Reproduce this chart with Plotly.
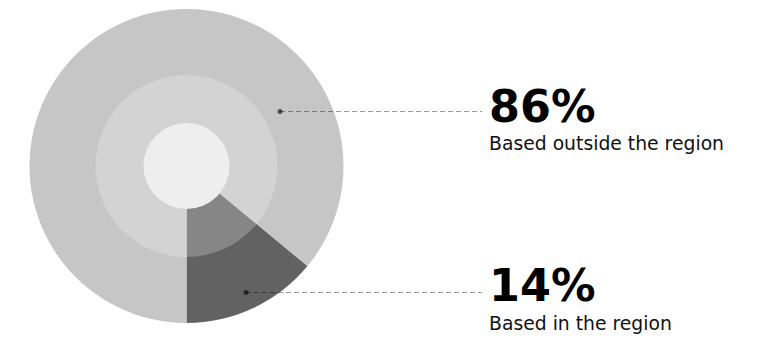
import plotly.graph_objects as go

# ---- data ----
labels = ["Based in the region", "Based outside the region"]
values = [14, 86]
pct_text = ["14%", "86%"]
colors = ["#626262", "#c6c6c6"]

# ---- layout geometry (pixels) ----
W, H = 758, 338
cx, cy, R = 186.5, 166, 157
R_mid, R_in = 91, 43

def px(x):
    return x / W

def py(y):
    return (H - y) / H

# first slice ends at 6 o'clock (clockwise drawing)
rotation = 180 - 360 * values[0] / sum(values)

fig = go.Figure()
fig.add_trace(go.Pie(
    labels=labels, values=values, sort=False,
    direction="clockwise", rotation=rotation,
    marker=dict(colors=colors, line=dict(width=0)),
    textinfo="none", hoverinfo="skip", showlegend=False,
    domain=dict(x=[px(cx - R), px(cx + R)], y=[py(cy + R), py(cy - R)]),
))

shapes = [
    dict(type="circle", xref="paper", yref="paper",
         x0=px(cx - R_mid), x1=px(cx + R_mid), y0=py(cy + R_mid), y1=py(cy - R_mid),
         fillcolor="rgba(255,255,255,0.23)", line=dict(width=0)),
    dict(type="circle", xref="paper", yref="paper",
         x0=px(cx - R_in), x1=px(cx + R_in), y0=py(cy + R_in), y1=py(cy - R_in),
         fillcolor="#eeeeee", line=dict(width=0)),
]

# leader positions: (dot x, dot y, line end x) for each label
leaders = {"86%": (280, 111.5, 482), "14%": (246, 292.5, 482)}
text_pos = {"86%": (107, 143), "14%": (285.4, 323)}

annotations = []
for lab, pct in zip(labels, pct_text):
    dx, dy, ex = leaders[pct]
    shapes.append(dict(type="line", xref="paper", yref="paper",
                       x0=px(dx), x1=px(ex), y0=py(dy), y1=py(dy),
                       line=dict(color="rgba(0,0,0,0.4)", width=1, dash="5px,3px")))
    r = 2.5
    shapes.append(dict(type="circle", xref="paper", yref="paper",
                       x0=px(dx - r), x1=px(dx + r), y0=py(dy + r), y1=py(dy - r),
                       fillcolor="rgba(0,0,0,0.6)", line=dict(width=0)))
    ny, ly = text_pos[pct]
    annotations.append(dict(text=f"<b>{pct}</b>", x=px(487), y=py(ny), xref="paper", yref="paper",
                            xanchor="left", yanchor="middle", showarrow=False,
                            font=dict(family="DejaVu Sans", size=44.5, color="#000000")))
    annotations.append(dict(text=lab, x=px(487), y=py(ly), xref="paper", yref="paper",
                            xanchor="left", yanchor="middle", showarrow=False,
                            font=dict(family="DejaVu Sans", size=18.8, color="#111111")))

fig.update_layout(
    width=W, height=H, margin=dict(l=0, r=0, t=0, b=0),
    paper_bgcolor="white", plot_bgcolor="white",
    shapes=shapes, annotations=annotations,
)
fig.write_html("out.html", config={"displayModeBar": False},
               post_script="document.body.style.margin='0';document.body.style.padding='0';")
